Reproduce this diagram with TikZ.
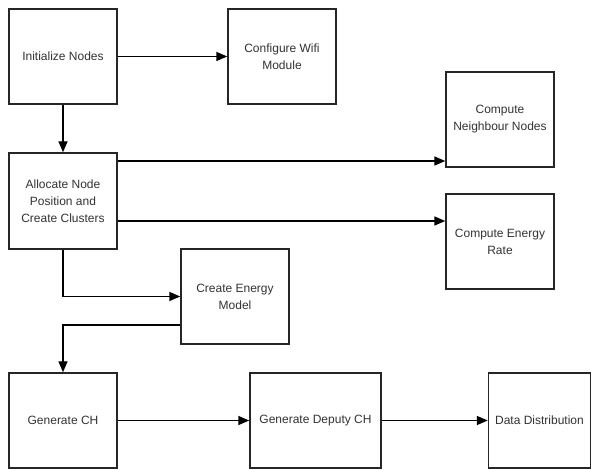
\documentclass[tikz,border=0pt]{standalone}
\usepackage{fontspec}
\setmainfont{Liberation Sans}
\usetikzlibrary{arrows.meta}
\definecolor{txt}{HTML}{333333}
\begin{document}
\begin{tikzpicture}[x=1pt,y=-1pt,
  box/.style={draw=black!85,line width=1.4pt,rectangle,inner sep=0pt,align=center,
    text=txt,font=\fontsize{12}{17}\selectfont},
  arr/.style={draw=black,line width=1.4pt,-{Triangle[length=11pt,width=9pt]}},
  ln/.style={draw=black,line width=1.4pt}]
\useasboundingbox (0,0) rectangle (592,470);
\fill[white] (0,0) rectangle (592,470);
\node[box,minimum width=108pt,minimum height=95pt] (init) at (63,56.5) {Initialize Nodes};
\node[box,minimum width=108pt,minimum height=95pt] (wifi) at (282,56.5) {Configure Wifi\\Module};
\node[box,minimum width=108pt,minimum height=96pt] (alloc) at (63,201) {Allocate Node\\Position and\\Create Clusters};
\node[box,minimum width=108pt,minimum height=95pt] (neigh) at (500,119.5) {Compute\\Neighbour Nodes};
\node[box,minimum width=108pt,minimum height=95pt] (rate) at (500,241.5) {Compute Energy\\Rate};
\node[box,minimum width=108pt,minimum height=95pt] (model) at (235,296.5) {Create Energy\\Model};
\node[box,minimum width=108pt,minimum height=95pt] (gch) at (63,420.5) {Generate CH};
\node[box,minimum width=131pt,minimum height=95pt] (dch) at (315.5,420.5) {Generate Deputy CH};
\node[box,minimum width=102pt,minimum height=95pt] (data) at (539.5,420.5) {Data Distribution};
\draw[arr] (init) -- (wifi);
\draw[arr] (init) -- (alloc);
\draw[arr] (alloc.east |- 0,161) -- (neigh.west |- 0,161);
\draw[arr] (alloc.east |- 0,221) -- (rate.west |- 0,221);
\draw[arr] (alloc.south) |- (model.west);
\draw[arr] (model.west |- 0,325) -| (gch.north);
\draw[arr] (gch) -- (dch);
\draw[arr] (dch) -- (data);
\end{tikzpicture}
\end{document}
